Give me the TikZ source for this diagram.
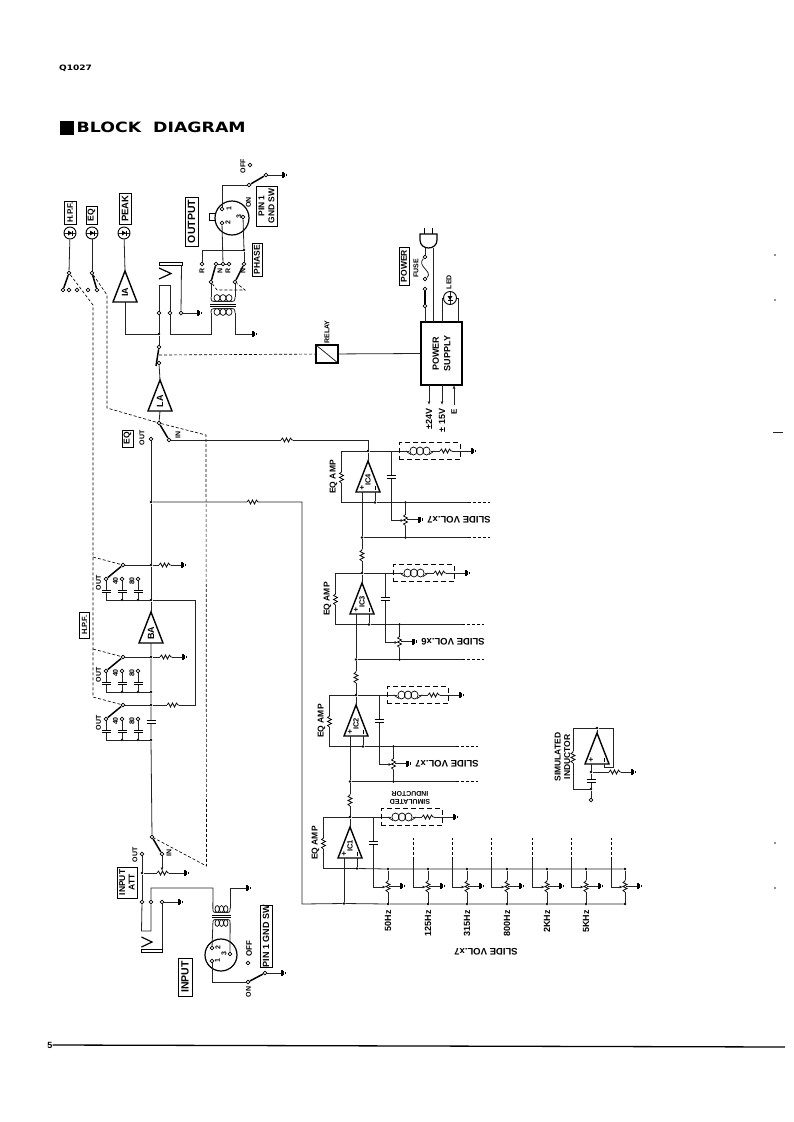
\documentclass[tikz,border=0pt]{standalone}
\usepackage{fontspec}
\setmainfont{Liberation Sans}
\newfontfamily\headfont[FakeStretch=1.22]{DejaVu Sans}
\usetikzlibrary{arrows.meta,calc}
\definecolor{inkline}{RGB}{35,35,35}
\tikzset{
  wire/.style={line width=0.8pt,inkline},
  link/.style={line width=0.65pt,dash pattern=on 3pt off 2pt,black},
  blade/.style={line width=1.5pt,black},
  wiper/.style={wire,-{Latex[length=3.5pt,width=3pt]}},
  term/.style={circle,draw=black,line width=0.8pt,fill=white,minimum size=3.8pt,inner sep=0pt},
  junction/.style={circle,fill=black,minimum size=2.6pt,inner sep=0pt},
  lab/.style={inner sep=0pt,rotate=90,text=black,font=\bfseries\fontsize{7}{7.5}\selectfont},
  biglab/.style={inner sep=0pt,rotate=90,text=black,align=center,font=\bfseries\fontsize{8.5}{9.5}\selectfont},
  tag/.style={draw=black,line width=0.7pt,rotate=90,inner sep=0pt,align=center,text=black,font=\bfseries\fontsize{9.5}{10.5}\selectfont},
  indbox/.style={draw=black,line width=0.9pt,dash pattern=on 5pt off 3pt,minimum width=61pt,minimum height=17pt,inner sep=0pt},
  lamp/.style={circle,draw=black,line width=0.9pt,fill=white,minimum size=12pt,inner sep=0pt,
    path picture={\draw[wire] (path picture bounding box.west) -- (path picture bounding box.east);
      \fill[black] ([xshift=-2pt,yshift=2.5pt]path picture bounding box.center) -- ([xshift=-2pt,yshift=-2.5pt]path picture bounding box.center) -- ([xshift=2pt]path picture bounding box.center) -- cycle;
      \draw[line width=1pt] ([xshift=2pt,yshift=2.5pt]path picture bounding box.center) -- ([xshift=2pt,yshift=-2.5pt]path picture bounding box.center);}},
  lampup/.style={circle,draw=black,line width=0.9pt,fill=white,minimum size=13pt,inner sep=0pt,
    path picture={\draw[wire] (path picture bounding box.north) -- (path picture bounding box.south);
      \fill[black] ([xshift=-2.5pt,yshift=2pt]path picture bounding box.center) -- ([xshift=2.5pt,yshift=2pt]path picture bounding box.center) -- ([yshift=-2pt]path picture bounding box.center) -- cycle;
      \draw[line width=1pt] ([xshift=-2.5pt,yshift=-2pt]path picture bounding box.center) -- ([xshift=2.5pt,yshift=-2pt]path picture bounding box.center);}},
  res/.pic={
    \fill[white] (-6,-1.3) rectangle (6,1.3);
    \draw[line width=0.7pt,black] (-6,0) -- (-4.5,-2) -- (-2.5,2) -- (-0.5,-2) -- (1.5,2) -- (3.5,-2) -- (5,0) -- (6,0);},
  cap/.pic={
    \fill[white] (-4.5,-1.3) rectangle (4.5,1.3);
    \draw[line width=1.2pt,black] (-4.5,-1.3) -- (4.5,-1.3) (-4.5,1.3) -- (4.5,1.3);},
  earth/.pic={
    \draw[line width=1.2pt,black] (0,-3) -- (0,3);
    \draw[line width=1.2pt,black] (1.6,-2.2) -- (1.6,2.2);
    \draw[line width=1.2pt,black] (3.2,-1.1) -- (3.2,1.1);},
  coil/.pic={
    \fill[white] (-11,-2) rectangle (11,2);
    \foreach \k in {-6.5,0,6.5} \draw[line width=0.7pt,black] (\k,0) ellipse (3.6 and 4);
    \draw[wire] (-14,0) .. controls (-12.5,0) and (-12,3) .. (-9,3.5);
    \draw[wire] (9,3.5) .. controls (12,3) and (12.5,0) .. (14,0);},
  xfmr/.pic={
    \foreach \k in {-6,0,6} {
      \draw[line width=0.7pt,black] (\k,-7) ellipse (3 and 3.4);
      \draw[line width=0.7pt,black] (\k,7) ellipse (3 and 3.4);}
    \draw[line width=0.8pt,black] (-13,-1) -- (13,-1) (-13,1) -- (13,1);
    \draw[wire] (-12,-8) .. controls (-12,-4) and (-11,-3.5) .. (-9,-3.5) -- (9,-3.5) .. controls (11,-3.5) and (12,-4) .. (12,-8);
    \draw[wire] (-12,8) .. controls (-12,4) and (-11,3.5) .. (-9,3.5) -- (9,3.5) .. controls (11,3.5) and (12,4) .. (12,8);
    \coordinate (-tl) at (-12,-8); \coordinate (-tr) at (12,-8);
    \coordinate (-bl) at (-12,8); \coordinate (-br) at (12,8);},
  amp/.pic={
    \draw[line width=1.4pt,black,line join=miter,fill=white] (0,0) -- (-12,31) -- (12,31) -- cycle;
    \node[biglab,font=\bfseries\fontsize{9}{9.5}\selectfont] (-name) at (0,21) {#1};
    \coordinate (-apex) at (0,0); \coordinate (-base) at (0,31);},
  opamp/.pic={
    \draw[line width=1.4pt,black,line join=miter,fill=white] (0,0) -- (-12,31) -- (12,31) -- cycle;
    \node[lab,font=\bfseries\fontsize{7.5}{8}\selectfont] (-name) at (0,19) {#1};
    \node[inner sep=0pt,font=\bfseries\fontsize{8}{8}\selectfont] (-sign) at (-6,27.2) {+};
    \draw[line width=0.8pt] (7,25) -- (7,28.5);
    \coordinate (-apex) at (0,0); \coordinate (-plus) at (-6,31); \coordinate (-minus) at (7,31);}
}
\begin{document}
\begin{tikzpicture}[x=1pt,y=-1pt]
  \useasboundingbox (0,0) rectangle (793,1122);

  % page heading and foot
  \node[anchor=west,inner sep=0pt,font=\headfont\bfseries\fontsize{7.4}{8}\selectfont] (docno) at (59,68) {Q1027};
  \node[fill=black,minimum size=14pt,inner sep=0pt] (blockmark) at (67,127.5) {};
  \node[anchor=west,inner sep=0pt,font=\headfont\bfseries\fontsize{14.2}{16}\selectfont] (blocktitle) at (76.5,127) {BLOCK\ \ DIAGRAM};
  \node[inner sep=0pt,font=\bfseries\fontsize{9}{9}\selectfont] (pageno) at (50,1045) {5};
  \coordinate (footend) at (785,1047);
  \draw[line width=1.3pt] (pageno.east) -- (footend);
  \foreach \mx/\my in {775/255,775/300,775/843,775/888} \fill[inkline] (\mx,\my) circle (0.8);
  \fill[inkline] (773,432) rectangle (783,433);

  % meter lamps and their switches
  \node[tag,minimum width=23pt,minimum height=12pt,font=\bfseries\fontsize{8}{9}\selectfont] (taghpf) at (70,212.5) {H.P.F.};
  \node[tag,minimum width=18pt,minimum height=11pt,font=\bfseries\fontsize{8.5}{9}\selectfont] (tageq) at (91.5,215) {EQ};
  \node[tag,minimum width=31pt,minimum height=12pt] (tagpeak) at (125,208.5) {PEAK};
  \node[lamp] (lamphpf) at (70,233) {};
  \node[lamp] (lampeq) at (92,233) {};
  \node[lamp] (lamppeak) at (124,233) {};
  \node[term] (hpfa) at (69,273) {};
  \node[term] (hpfb) at (63,290) {};
  \node[term] (hpfc) at (69,290) {};
  \node[term] (hpfd) at (77,290) {};
  \node[term] (eqa) at (92,273) {};
  \node[term] (eqb) at (88,290) {};
  \node[term] (eqc) at (97,290) {};
  \draw[wire] (lamphpf) -- (hpfa);
  \draw[wire] (lampeq) -- (eqa);
  \draw[blade] (hpfa) -- (hpfb);
  \draw[blade] (eqa) -- (eqc);

  % level and indicator amps
  \pic (ia) at (125,271) {amp=IA};
  \pic (la) at (160,380) {amp=LA};
  \pic (ba) at (151,612) {amp=BA};
  \draw[wire] (lamppeak) -- (ia-apex);
  \node[term] (jaka) at (159,313) {};
  \node[term] (jakb) at (170,313) {};
  \node[term] (jakc) at (181,313) {};
  \coordinate (jakgnd) at (198,313);
  \node[term] (relt) at (159,347) {};
  \node[term] (relb) at (159,363) {};
  \node[junction] (mixj) at (159,334) {};
  \coordinate (relend) at (156,366);
  \draw[wire] (relt) -- (mixj) -- (jaka);
  \draw[wire] (ia-base) |- (mixj);
  \draw[blade] (relt) -- (relend);
  \draw[wire] (relb) -- (la-apex);
  \draw[wire] (jakc) -- (jakgnd);
  \pic at (jakgnd) {earth};

  % output jack
  \draw[wire] (jaka) -- (159,285) -- (170,285) -- (jakb);
  \draw[line width=1.2pt,black] (159,279) -- (171,273.5) -- (159,268);
  \draw[line width=1pt,black] (159.5,262.5) rectangle (182,265);
  \draw[wire] (jakc) -- (181.5,265);

  % output connector, phase switch and transformer
  \node[tag,minimum width=49pt,minimum height=13pt,font=\bfseries\fontsize{10.5}{11}\selectfont] (tagoutput) at (191.5,221.5) {OUTPUT};
  \node[tag,minimum width=40pt,minimum height=21pt,font=\bfseries\fontsize{8.5}{10}\selectfont] (tagpinout) at (266.5,206) {PIN 1\\GND SW};
  \node[tag,minimum width=33pt,minimum height=10pt,font=\bfseries\fontsize{8.5}{9}\selectfont] (tagphase) at (257,259.5) {PHASE};
  \draw[line width=1pt,black] (209,213) rectangle (216,220);
  \node[circle,draw=black,line width=1.2pt,fill=white,minimum size=34pt,inner sep=0pt] (conout) at (232,218) {};
  \node[term] (pinb) at (222,209) {};
  \node[term] (pinc) at (222,223) {};
  \node[term] (pind) at (243,217) {};
  \node[lab] (lblpinb) at (229,209) {1};
  \node[lab] (lblpinc) at (228,223) {2};
  \node[lab] (lblpind) at (239,217) {3};
  \node[term] (gsa) at (249,185) {};
  \node[term] (gsb) at (266,175) {};
  \node[term] (gsc) at (250,165) {};
  \coordinate (gsgnd) at (283,175);
  \node[lab] (lbloff) at (243,166) {OFF};
  \node[lab,anchor=east] (lblon) at (248.5,197) {ON};
  \draw[wire] (pinb) |- (gsa);
  \draw[blade] (gsa) -- (gsb);
  \draw[wire] (gsb) -- (gsgnd);
  \pic at (gsgnd) {earth};
  \node[term] (phr) at (202,264) {};
  \node[term] (pha) at (216,264) {};
  \node[term] (phm) at (223,264) {};
  \node[term] (phc) at (229,264) {};
  \node[term] (phn) at (244,264) {};
  \node[term] (phb) at (211,282) {};
  \node[term] (phd) at (235,282) {};
  \node[junction] (phj) at (244,250) {};
  \node[lab] (lblpr) at (202,271) {R};
  \node[lab] (lblpn) at (220,271) {N};
  \node[lab] (lblqr) at (228,271) {R};
  \node[lab] (lblqn) at (243,271) {N};
  \draw[wire] (phr) |- (phj) -- (phn);
  \draw[wire] (pinc) -- (phm);
  \draw[wire] (pind) -- (phj);
  \draw[wire] (pha) -- (phm) -- (phc);
  \draw[blade] (phb) -- (pha);
  \draw[blade] (phd) -- (phn);
  \coordinate (phl) at (217,290);
  \coordinate (phk) at (245,290);
  \draw[link] (phb) -- (phl) -- (phk) -- (phd);
  \pic (outt) at (223,305) {xfmr};
  \coordinate (lowa) at (211,334);
  \coordinate (lowgnd) at (253,334);
  \draw[wire] (phb) -- (outt-tl);
  \draw[wire] (phd) -- (outt-tr);
  \draw[wire] (jakb) |- (lowa) -- (outt-bl);
  \draw[wire] (outt-br) |- (lowgnd);
  \pic at (lowgnd) {earth};

  % relay and power supply
  \node[draw=black,line width=1.1pt,minimum width=22pt,minimum height=18pt,inner sep=0pt,
    path picture={\draw[wire] (path picture bounding box.north west) -- (path picture bounding box.south east);}] (relay) at (327,354) {};
  \node[lab,font=\bfseries\fontsize{7}{8}\selectfont] (lblrelay) at (327,332) {RELAY};
  \node[draw=black,line width=1.5pt,rotate=90,minimum width=63pt,minimum height=41pt,inner sep=0pt,align=center,font=\bfseries\fontsize{9}{11.5}\selectfont] (ps) at (441.5,353.5) {POWER\\SUPPLY};
  \coordinate (relk) at (159,355);
  \draw[link] (relk) -- (relay);
  \draw[wire] (relay) -- (ps.north);
  \node[tag,minimum width=38pt,minimum height=10pt,font=\bfseries\fontsize{8.5}{9}\selectfont] (tagpower) at (404,266) {POWER};
  \node[lab] (lblfuse) at (416,268) {FUSE};
  \node[lab] (lblled) at (449,282) {LED};
  \node[term] (pwa) at (425,306) {};
  \node[term] (pwb) at (425,289) {};
  \node[term] (pwc) at (425,279) {};
  \node[term] (pwd) at (425,257) {};
  \node[lampup] (ledpow) at (450,298) {};
  \coordinate (psa) at (425,322);
  \coordinate (psb) at (433,322);
  \coordinate (psc) at (442,322);
  \coordinate (psd) at (458,322);
  \coordinate (plga) at (425,248);
  \coordinate (plgb) at (433,248);
  \draw[wire] (pwa) -- (psa);
  \draw[blade] (pwa) -- (pwb);
  \draw[wire] (pwc) .. controls (434,272) and (416,266) .. (pwd);
  \draw[wire] (pwd) -- (plga);
  \draw[wire] (plgb) -- (psb);
  \draw[wire] (ledpow.west) -| (psc);
  \draw[wire] (ledpow.east) -| (psd);
  \draw[line width=1.2pt,black,fill=white] (420,234) -- (437,234) -- (437,240) .. controls (437,245) and (433,248) .. (428.5,248) .. controls (424,248) and (420,245) .. (420,240) -- cycle;
  \draw[line width=1pt,black] (424,228) -- (424,234) (432,228) -- (432,234);
  \coordinate (psoa) at (429,385);
  \coordinate (psob) at (442,385);
  \coordinate (psoc) at (454,385);
  \coordinate (psoae) at (429,405);
  \coordinate (psobe) at (442,405);
  \coordinate (psoce) at (454,405);
  \draw[wire,-{Latex[length=3.5pt,width=3pt]}] (psoa) -- (psoae);
  \draw[wire,-{Latex[length=3.5pt,width=3pt]}] (psob) -- (psobe);
  \draw[wire,{Latex[length=3.5pt,width=3pt]}-] (psoc) -- (psoce);
  \node[biglab,anchor=east,font=\bfseries\fontsize{9}{9}\selectfont] (lblvp) at (429,408.5) {±24V};
  \node[biglab,anchor=east,font=\bfseries\fontsize{9}{9}\selectfont] (lblvn) at (442,408.5) {± 15V};
  \node[biglab,anchor=east,font=\bfseries\fontsize{8}{8}\selectfont] (lblve) at (454,408.5) {E};

  % eq in/out switch and main line
  \node[tag,minimum width=17pt,minimum height=11pt,font=\bfseries\fontsize{8.5}{9}\selectfont] (tageqs) at (127.5,438.5) {EQ};
  \node[term] (swatop) at (159,423) {};
  \node[term] (swain) at (169,440) {};
  \node[term] (swaout) at (151,439) {};
  \node[lab] (lblain) at (178,435) {IN};
  \node[lab] (lblaout) at (142,438) {OUT};
  \draw[wire] (la-base) -- (swatop);
  \draw[blade] (swatop) -- (swain);
  \node[junction] (eqtap) at (151,502) {};
  \foreach \n/\y in {1/565,2/657,3/705} {
    \node[junction] (hpnode\n) at (151,\y) {};
    \node[junction] (hpbus\n) at (151,\y+35) {};
    \node[term] (hptop\n) at (123,\y) {};
    \node[term] (hpout\n) at (106,\y+14) {};
    \node[term] (hpmid\n) at (122,\y+14) {};
    \node[term] (hplow\n) at (138,\y+14) {};
    \node[junction] (hpjm\n) at (122,\y+35) {};
    \node[junction] (hpjl\n) at (138,\y+35) {};
    \node[lab] (lblout\n) at (98.5,\y+18) {OUT};
    \node[lab] (lblmid\n) at (115.5,\y+16) {40};
    \node[lab] (lbllow\n) at (132,\y+16) {80};
    \draw[blade] (hptop\n) -- (hpout\n);
    \draw[wire] (hptop\n) -- (hpnode\n);
    \draw[wire] (hpout\n) |- (hpbus\n);
    \draw[wire] (hpmid\n) -- (hpjm\n);
    \draw[wire] (hplow\n) -- (hpjl\n);
    \pic at (106,\y+26.5) {cap};
    \pic at (122,\y+26.5) {cap};
    \pic at (138,\y+26.5) {cap};
  }
  \node[tag,minimum width=26pt,minimum height=9.5pt,font=\bfseries\fontsize{7.5}{8}\selectfont] (taghpfs) at (84.5,625) {H.P.F.};
  \node[term] (swbtop) at (152,837) {};
  \draw[wire] (swaout) -- (eqtap) -- (hpnode1) -- (hpbus1) -- (ba-apex);
  \draw[wire] (ba-base) -- (hpnode2) -- (hpbus2) -- (hpnode3) -- (hpbus3) -- (swbtop);
  \pic at (151,722) {cap};
  \coordinate (hpgnda) at (182,565);
  \coordinate (hpgndb) at (183,657);
  \coordinate (hpret) at (195,600);
  \draw[wire] (hpnode1) -- (hpgnda);
  \draw[wire] (hpnode2) -- (hpgndb);
  \draw[wire] (hpnode3) -| (hpret) -- (hpbus1);
  \pic at (165,565) {res};
  \pic at (166,657) {res};
  \pic at (173,705) {res};
  \pic at (hpgnda) {earth};
  \pic at (hpgndb) {earth};

  % gang links between the switches
  \coordinate (dha) at (93,305);
  \coordinate (dhb) at (93,557);
  \coordinate (dhc) at (93,649);
  \coordinate (dhd) at (93,697);
  \draw[link] (hpfa) -- (dha) -- (dhd) -- (hptop3);
  \draw[link] (dhb) -- (hptop1);
  \draw[link] (dhc) -- (hptop2);
  \coordinate (dea) at (107,295);
  \coordinate (deb) at (107,408);
  \coordinate (dec) at (206,435);
  \coordinate (ded) at (206.5,866);
  \draw[link] (eqa) -- (dea) -- (deb) -- (swatop) -- (dec) -- (ded) -- (swbtop);

  % eq amp stages
  \foreach \n/\x/\y in {4/368/461,3/362/583,2/356/705,1/350/827} {
    \begin{scope}[shift={(\x,\y)}]
      \pic (ic\n) at (0,0) {opamp=IC\n};
      \node[junction] (ictop\n) at (0,-10) {};
      \coordinate (icfb\n) at (-26.5,-10);
      \coordinate (icfbl\n) at (-26.5,41.5);
      \node[junction] (icneg\n) at (7,41.5) {};
      \node[junction] (icin\n) at (-6,76.5) {};
      \coordinate (icup\n) at (23,-10);
      \coordinate (icwip\n) at (23,59.5);
      \coordinate (icgnd\n) at (104,-10);
      \draw[wire] (ictop\n) -- (ic\n-apex);
      \draw[wire] (ictop\n) -- (icfb\n) -- (icfbl\n) -- (icneg\n) -- (ic\n-minus);
      \draw[wire] (ic\n-plus) -- (icin\n);
      \draw[wire] (ictop\n) -- (icup\n) -- (icwip\n);
      \draw[wire] (icup\n) -- (icgnd\n);
      \pic[rotate=90] at (-26.5,16) {res};
      \pic at (23,16) {cap};
      \node[indbox] (ind\n) at (61.5,-10) {};
      \pic at (52,-10) {coil};
      \pic at (78,-10) {res};
      \pic at (icgnd\n) {earth};
      \node[biglab,font=\bfseries\fontsize{8.5}{9}\selectfont] (lblamp\n) at (-34.5,16) {EQ AMP};
    \end{scope}
  }
  \foreach \n/\x/\y/\c in {4/368/461/7,3/362/583/6,2/356/705/7} {
    \begin{scope}[shift={(\x,\y)}]
      \node[junction] (icsu\n) at (37.5,41.5) {};
      \node[junction] (icsl\n) at (37.5,76.5) {};
      \coordinate (icta\n) at (100,41.5);
      \coordinate (ictb\n) at (122,41.5);
      \coordinate (ictc\n) at (100,76.5);
      \coordinate (ictd\n) at (122,76.5);
      \coordinate (icpg\n) at (51,58.5);
      \coordinate (icpo\n) at (36,59.5);
      \draw[wire] (icneg\n) -- (icsu\n) -- (icta\n);
      \draw[wire] (icin\n) -- (icsl\n) -- (ictc\n);
      \draw[link] (icta\n) -- (ictb\n);
      \draw[link] (ictc\n) -- (ictd\n);
      \draw[wire] (icsu\n) -- (icsl\n);
      \draw[wire] (37.5,58.5) -- (icpg\n);
      \pic[rotate=90] at (37.5,58.5) {res};
      \draw[wiper] (icwip\n) -- (icpo\n);
      \pic at (icpg\n) {earth};
      \node[inner sep=0pt,rotate=180,font=\bfseries\fontsize{9.5}{10}\selectfont] (lblslide\n) at (91,58.5) {SLIDE VOL.x\c};
    \end{scope}
  }
  \coordinate (icfeed) at (368,440);
  \draw[wire] (swain) -- (icfeed) -- (ictop4);
  \pic at (287,440) {res};
  \draw[wire] (icin4) -- (ictop3);
  \draw[wire] (icin3) -- (ictop2);
  \draw[wire] (icin2) -- (ictop1);
  \pic[rotate=90] at (362,555) {res};
  \pic[rotate=90] at (356,677) {res};
  \pic[rotate=90] at (350,800) {res};
  \node[inner sep=0pt,rotate=180,align=center,font=\bfseries\fontsize{7}{8}\selectfont] (lblsimtop) at (410,798) {SIMULATED\\INDUCTOR};

  % slide volumes
  \coordinate (tapa) at (302,502);
  \coordinate (tapb) at (302,904);
  \draw[wire] (eqtap) -- (tapa) -- (tapb) -- (icin1);
  \pic at (253,502) {res};
  \foreach \n/\px/\wx in {1/388/373,2/428/413,3/467/452,4/507/491,5/547/532,6/586/571,7/625/611} {
    \node[junction] (potup\n) at (\px,869) {};
    \node[junction] (potlo\n) at (\px,904) {};
    \coordinate (potw\n) at (\wx,887);
    \coordinate (pots\n) at (\px-2,887);
    \coordinate (potg\n) at (\px+13,886);
    \draw[wire] (potup\n) -- (potlo\n);
    \draw[wire] (\px,886) -- (potg\n);
    \pic[rotate=90] at (\px,886) {res};
    \draw[wiper] (potw\n) -- (pots\n);
    \pic at (potg\n) {earth};
  }
  \foreach \n/\px/\fq in {1/388/50Hz,2/428/125Hz,3/467/315Hz,4/507/800Hz,5/547/2KHz,6/586/5KHz}
    \node[biglab,anchor=east,font=\bfseries\fontsize{9}{9}\selectfont] (lblfq\n) at (\px,910) {\fq};
  \draw[wire] (icneg1) -- (potup1) -- (potup2) -- (potup3) -- (potup4) -- (potup5) -- (potup6) -- (potup7);
  \draw[wire] (icin1) -- (potlo1) -- (potlo2) -- (potlo3) -- (potlo4) -- (potlo5) -- (potlo6) -- (potlo7);
  \foreach \n in {2,...,7} {
    \coordinate (pota\n) at ($(potw\n)+(0,-27)$);
    \coordinate (potb\n) at ($(potw\n)+(0,-49)$);
    \draw[wire] (potw\n) -- (pota\n);
    \draw[link] (pota\n) -- (potb\n);
  }
  \node[inner sep=0pt,rotate=180,font=\bfseries\fontsize{9.5}{10}\selectfont] (lblslidex) at (486,952) {SLIDE VOL.x7};

  % simulated inductor detail
  \pic (sim) at (597,733) {opamp={}};
  \node[junction] (simtop) at (597,728) {};
  \node[junction] (simin) at (591,772) {};
  \node[junction] (simcap) at (591,789) {};
  \node[term] (simterm) at (591,800) {};
  \coordinate (simfa) at (573,789);
  \coordinate (simfb) at (613,767);
  \coordinate (simfc) at (604,767);
  \coordinate (simgnd) at (632,772);
  \draw[wire] (simtop) -- (sim-apex);
  \draw[wire] (simtop) -| (simfa) -- (simcap);
  \draw[wire] (simtop) -| (simfb) -- (simfc) -- (sim-minus);
  \draw[wire] (sim-plus) -- (simin) -- (simcap) -- (simterm);
  \draw[wire] (simin) -- (simgnd);
  \pic[rotate=90] at (573,757) {res};
  \pic at (591,781) {cap};
  \pic at (615,772) {res};
  \pic at (simgnd) {earth};
  \node[biglab,font=\bfseries\fontsize{8.5}{9.5}\selectfont] (lblsim) at (562.5,757) {SIMULATED\\INDUCTOR};

  % input side
  \node[tag,minimum width=31pt,minimum height=20pt,font=\bfseries\fontsize{8.5}{9.5}\selectfont] (tagatt) at (127,882.5) {INPUT\\ATT};
  \node[tag,minimum width=38pt,minimum height=14pt,font=\bfseries\fontsize{10.5}{11}\selectfont] (taginput) at (185,977) {INPUT};
  \node[tag,minimum width=62pt,minimum height=12pt,font=\bfseries\fontsize{9}{9.5}\selectfont] (tagpinin) at (266,936) {PIN 1 GND SW};
  \node[term] (swbin) at (162,854) {};
  \node[term] (swbout) at (142,854) {};
  \node[lab] (lblbin) at (169,853) {IN};
  \node[lab] (lblbout) at (135,855) {OUT};
  \draw[blade] (swbtop) -- (swbin);
  \node[junction] (attj) at (142,873) {};
  \node[term] (inja) at (142,902) {};
  \node[term] (injb) at (151,902) {};
  \node[term] (injc) at (162,902) {};
  \coordinate (attgnd) at (185,873);
  \coordinate (attw) at (162,871);
  \coordinate (injgnd) at (179,902);
  \draw[wire] (swbout) -- (attj) -- (inja);
  \draw[wire] (attj) -- (attgnd);
  \pic at (163,873) {res};
  \draw[wiper] (swbin) -- (attw);
  \pic at (attgnd) {earth};
  \draw[wire] (injc) -- (injgnd);
  \pic at (injgnd) {earth};
  \draw[wire] (inja) -- (141.5,931) -- (151,931) -- (injb);
  \draw[line width=1.2pt,black] (141.5,937) -- (152,942) -- (141.5,947);
  \draw[line width=1pt,black] (141.5,949) rectangle (162,952);
  \draw[wire] (injc) -- (162,949);
  \pic[xscale=0.72] (intr) at (221.5,916) {xfmr};
  \coordinate (incorn) at (213,888);
  \coordinate (ingnd) at (247,888);
  \draw[wire] (injb) |- (incorn) -- (intr-tl);
  \draw[wire] (intr-tr) |- (ingnd);
  \pic at (ingnd) {earth};
  \node[circle,draw=black,line width=1.2pt,fill=white,minimum size=32pt,inner sep=0pt] (conin) at (221,955) {};
  \node[term] (inpb) at (212,948) {};
  \node[term] (inpc) at (230,954) {};
  \node[term] (inpd) at (212,961) {};
  \node[lab] (lblinb) at (218,948) {2};
  \node[lab] (lblinc) at (224,954) {3};
  \node[lab] (lblind) at (217.5,961) {1};
  \draw[wire] (inpb) -- (intr-bl);
  \draw[wire] (inpc) -- (intr-br);
  \node[term] (gia) at (248,982) {};
  \node[term] (gib) at (265,973) {};
  \node[term] (gic) at (248,963) {};
  \coordinate (gignd) at (282,973);
  \node[lab,font=\bfseries\fontsize{8}{8}\selectfont,anchor=west] (lbloffin) at (249,957) {OFF};
  \node[lab] (lblonin) at (248.5,992) {ON};
  \draw[wire] (inpd) |- (gia);
  \draw[blade] (gia) -- (gib);
  \draw[wire] (gib) -- (gignd);
  \pic at (gignd) {earth};
\end{tikzpicture}
\end{document}
